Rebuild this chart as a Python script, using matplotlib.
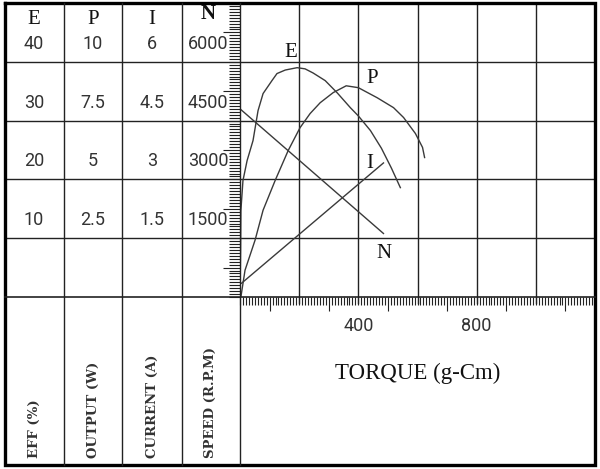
import matplotlib
matplotlib.use("Agg")
import matplotlib.pyplot as plt
from matplotlib.ticker import MultipleLocator, FixedLocator
from matplotlib.transforms import blended_transform_factory

# torque (g-cm) sample points
torque_e = [0, 1, 2, 3, 10, 24, 44, 61, 78, 108, 125, 153, 193, 220, 247,
            288, 329, 373, 400, 441, 478, 512, 542]
eff = [0, 4.0, 8.0, 14.7, 19.8, 23.2, 26.6, 31.7, 34.6, 36.8, 38.0, 38.6,
       39.0, 38.8, 38.1, 36.8, 34.7, 32.2, 30.8, 28.3, 25.3, 21.9, 18.6]

torque_p = [3, 17, 51, 78, 119, 163, 203, 237, 271, 315, 359, 400, 464,
            519, 553, 593, 617, 624]
output = [0, 1.14, 2.42, 3.69, 4.96, 6.23, 7.20, 7.80, 8.26, 8.69, 8.98,
          8.90, 8.47, 8.05, 7.63, 6.95, 6.36, 5.93]

torque_i = [5, 485]
current = [0.35, 3.42]

torque_n = [0, 485]
speed = [4800, 1620]

eff_ticks = [10, 20, 30, 40]
output_ticks = [2.5, 5, 7.5, 10]
current_ticks = [1.5, 3, 4.5, 6]
speed_ticks = [1500, 3000, 4500, 6000]
eff_labels = ["10", "20", "30", "40"]
output_labels = ["2.5", "5", "7.5", "10"]
current_labels = ["1.5", "3", "4.5", "6"]
speed_labels = ["1500", "3000", "4500", "6000"]
torque_labels = [400, 800]

W, H = 600, 469
SERIF = "Liberation Serif"
SANS = ["Roboto", "DejaVu Sans"]
LINE = "#222222"
CURVE = "#3a3a3a"


def box(l, t, r, b):
    return [l / W, 1 - b / H, (r - l) / W, (b - t) / H]


fig = plt.figure(figsize=(6, 4.69), dpi=100)

# chart area
ax = fig.add_axes(box(240, 3, 595, 297))
ax.patch.set_visible(False)
ax.set_xlim(0, 1200)
ax.set_ylim(0, 7500)
for s in ax.spines.values():
    s.set_visible(False)

ax.xaxis.set_major_locator(FixedLocator(range(100, 1200, 200)))
ax.xaxis.set_minor_locator(MultipleLocator(10))
ax.yaxis.set_major_locator(FixedLocator(range(750, 7500, 1500)))
ax.yaxis.set_minor_locator(MultipleLocator(75))
ax.tick_params(axis="x", which="major", direction="out", length=10, width=0.8,
               color=LINE, labelbottom=False)
ax.tick_params(axis="x", which="minor", direction="out", length=6, width=0.8,
               color=LINE)
ax.tick_params(axis="y", which="major", direction="out", length=12, width=0.8,
               color=LINE, labelleft=False)
ax.tick_params(axis="y", which="minor", direction="out", length=8, width=0.8,
               color=LINE)

# grid, row lines run through the table on the left
left_ext = (5 - 240) / 355
for v in speed_ticks:
    ax.axhline(v, xmin=left_ext, xmax=1, color=LINE, lw=1, clip_on=False)
for t in range(200, 1200, 200):
    ax.axvline(t, ymin=-6 / 294, ymax=1, color=LINE, lw=1, clip_on=False)

axE = ax.twinx()
axE.set_ylim(0, 50)
axP = ax.twinx()
axP.set_ylim(0, 12.5)
axI = ax.twinx()
axI.set_ylim(0, 7.5)
for a in (axE, axP, axI):
    a.axis("off")

axE.plot(torque_e, eff, color=CURVE, lw=1)
axP.plot(torque_p, output, color=CURVE, lw=1)
axI.plot(torque_i, current, color=CURVE, lw=1)
ax.plot(torque_n, speed, color=CURVE, lw=1)

lab = dict(family=SERIF, fontsize=15, ha="center", va="center", color="#111")
axE.text(170, 41.5, "E", **lab)
axP.text(447, 9.3, "P", **lab)
axI.text(437, 3.4, "I", **lab)
ax.text(485, 1120, "N", **lab)

# torque tick labels
xb = blended_transform_factory(ax.transData, ax.transAxes)
for t in torque_labels:
    ax.text(t, -29 / 294, str(t), transform=xb, ha="center", va="center",
            family=SANS, fontsize=13, color="#333")

# table on the left, drawn in pixel coordinates
frame = fig.add_axes([0, 0, 1, 1])
frame.set_xlim(0, W)
frame.set_ylim(H, 0)
frame.axis("off")
frame.set_zorder(10)

frame.plot([5, 595, 595, 5, 5], [3, 3, 465, 465, 3], color="black", lw=2.4,
           solid_joinstyle="miter")
for x in (64, 122, 182, 240):
    frame.plot([x, x], [3, 465], color=LINE, lw=1)
frame.plot([5, 595], [297, 297], color=LINE, lw=1.2)

col_x = [34, 93, 152, 208]
for x, h, y in zip(col_x, ["E", "P", "I", "N"], [19, 19, 19, 14]):
    frame.text(x, y, h, family=SERIF, fontsize=15, ha="center", va="center",
               color="#111", fontweight="bold" if h == "N" else "normal")

for x, a, ticks, labels in zip(col_x, (axE, axP, axI, ax),
                               (eff_ticks, output_ticks, current_ticks, speed_ticks),
                               (eff_labels, output_labels, current_labels, speed_labels)):
    for v, s in zip(ticks, labels):
        a.annotate(s, xy=(x, v), xycoords=(frame.transData, a.transData),
                   xytext=(0, 13), textcoords="offset points",
                   ha="center", va="center", family=SANS,
                   fontsize=13, color="#333", annotation_clip=False)

names = ["EFF (%)", "OUTPUT (W)", "CURRENT (A)", "SPEED (R.P.M)"]
for x, s in zip([34, 93, 152, 210], names):
    frame.text(x, 458, s, rotation=90, ha="center", va="bottom",
               family="DejaVu Serif", fontweight="bold", fontsize=9.5,
               color="#333")

frame.text(418, 373, "TORQUE (g-Cm)", family=SERIF, fontsize=16.5,
           ha="center", va="center", color="#111")

fig.savefig("out.png", dpi=100)
